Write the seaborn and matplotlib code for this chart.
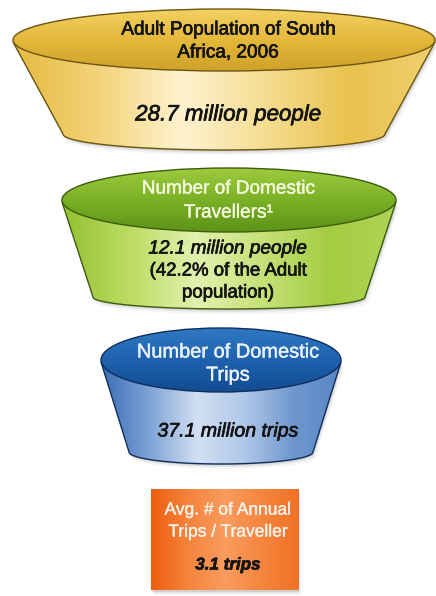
import numpy as np
import matplotlib
matplotlib.use("Agg")
import matplotlib.pyplot as plt
import matplotlib.patheffects as pe
from matplotlib.patches import Polygon, Ellipse, Rectangle
import seaborn as sns

# ---- funnel content ----
stage_titles = [
    ["Adult Population of South", "Africa, 2006"],
    ["Number of Domestic", "Travellers\u00b9"],
    ["Number of Domestic", "Trips"],
    ["Avg. # of Annual", "Trips / Traveller"],
]
stage_values = [28.7, 12.1, 37.1, 3.1]
stage_units = ["million people", "million people", "million trips", "trips"]
traveller_share = 42.2  # percent of the adult population

sns.set_theme(style="white")
plt.rcParams["font.family"] = ["Liberation Sans", "DejaVu Sans"]

W, H = 436, 596
fig = plt.figure(figsize=(W / 100, H / 100), dpi=100)
ax = fig.add_axes([0, 0, 1, 1])
ax.set_xlim(0, W)
ax.set_ylim(H, 0)
ax.axis("off")


def grad_image(ax, extent, cmap, horizontal=True, zorder=1):
    g = np.linspace(0, 1, 256)
    arr = g[None, :] if horizontal else g[:, None]
    return ax.imshow(arr, extent=extent, cmap=cmap, aspect="auto",
                     origin="upper", interpolation="bicubic", zorder=zorder)


def bowl(ax, cx, cy, a, b, cb, yb, sag, top_cols, body_cols, edge, z):
    u = np.linspace(0, np.pi, 80)
    arc = np.column_stack([cx - cb * np.cos(u), yb + sag * np.sin(u)])
    pts = np.vstack([[cx - a, cy + 2], arc, [cx + a, cy + 2]])

    # soft drop shadow
    for k, al in [(5, 0.06), (3, 0.10), (1.5, 0.14)]:
        ax.add_patch(Polygon(pts + [k * 0.6, k], closed=True, fc="#555555",
                             ec="none", alpha=al, zorder=z))

    body = Polygon(pts, closed=True, fc="none", ec=edge, lw=1.0, zorder=z + 2)
    ax.add_patch(body)
    im = grad_image(ax, [cx - a, cx + a, yb + sag, cy],
                    sns.blend_palette(body_cols, as_cmap=True), True, z + 1)
    im.set_clip_path(body)

    top = Ellipse((cx, cy), 2 * a, 2 * b, fc="none", ec=edge, lw=1.0,
                  zorder=z + 4)
    ax.add_patch(top)
    im2 = grad_image(ax, [cx - a, cx + a, cy + b, cy - b],
                     sns.blend_palette(top_cols, as_cmap=True), False, z + 3)
    im2.set_clip_path(top)


# yellow bowl
bowl(ax, 224, 40, 211, 31, 161, 134, 16,
     ["#F2D163", "#E4B83A", "#CFA12A"],
     ["#E6BA40", "#F3D37A", "#FFF3D0", "#F5DC90", "#E9C24E", "#F0CF70"],
     "#6B5512", 1)
# green bowl
bowl(ax, 229, 200, 167, 32, 136, 297, 12,
     ["#9DCB3E", "#7BB126", "#5D9318"],
     ["#93C132", "#BCDC62", "#E2F1AE", "#C6E177", "#A3CD42", "#B0D455"],
     "#3E5C10", 10)
# blue bowl
bowl(ax, 221, 360, 120, 32, 92, 452, 12,
     ["#3079C2", "#1E62AE", "#124C92"],
     ["#3A6DB6", "#7EA3D5", "#D2E0F3", "#AFC7E8", "#6F96CE", "#5A86C6"],
     "#102E5A", 20)

# orange box
rx0, ry0, rx1, ry1 = 151, 489, 298, 590
for k, al in [(5, 0.06), (3, 0.10), (1.5, 0.14)]:
    ax.add_patch(Rectangle((rx0 + k * 0.6, ry0 + k), rx1 - rx0, ry1 - ry0,
                           fc="#555555", ec="none", alpha=al, zorder=30))
box = Rectangle((rx0, ry0), rx1 - rx0, ry1 - ry0, fc="none", ec="none",
                zorder=32)
ax.add_patch(box)
im = grad_image(ax, [rx0, rx1, ry1, ry0],
                sns.blend_palette(["#EC5E10", "#F5843C", "#F99C5E",
                                   "#F5863E", "#F07226"], as_cmap=True),
                True, 31)
im.set_clip_path(box)


def label(x, y, s, px, col, stroke=0.5, **kw):
    # a thin stroke in the text colour gives the slightly heavy look
    ax.text(x, y, s, ha="center", va="center", fontsize=px * 0.72,
            color=col, zorder=50,
            path_effects=[pe.withStroke(linewidth=stroke, foreground=col)],
            **kw)


# ---- text ----
TX = 228
title_px = [19.0, 19.0, 20.0, 17.4]
title_cols = ["#141414", "#F4F8DC", "#EAF2FF", "#FBEFE6"]
title_stroke = [0.5, 0.3, 0.3, 0.3]
title_y = [(30, 53), (189, 213), (352, 375), (510, 532)]
for t, (y1, y2), px, col, sw in zip(stage_titles, title_y, title_px,
                                    title_cols, title_stroke):
    for line, y in zip(t, (y1, y2)):
        label(TX, y, line, px, col, stroke=sw)

value_y = [115, 249, 432, 565]
value_px = [22.3, 19.0, 19.5, 17.0]
for v, unit, y, px, i in zip(stage_values, stage_units, value_y, value_px,
                             range(4)):
    label(TX, y, f"{v:.1f} {unit}", px, "#141414", style="italic",
          weight="bold" if i == 3 else "normal")

label(TX, 271, f"({traveller_share:.1f}% of the Adult", 18.6, "#141414")
label(TX, 293, "population)", 18.6, "#141414")

fig.savefig("out.png", dpi=100)
